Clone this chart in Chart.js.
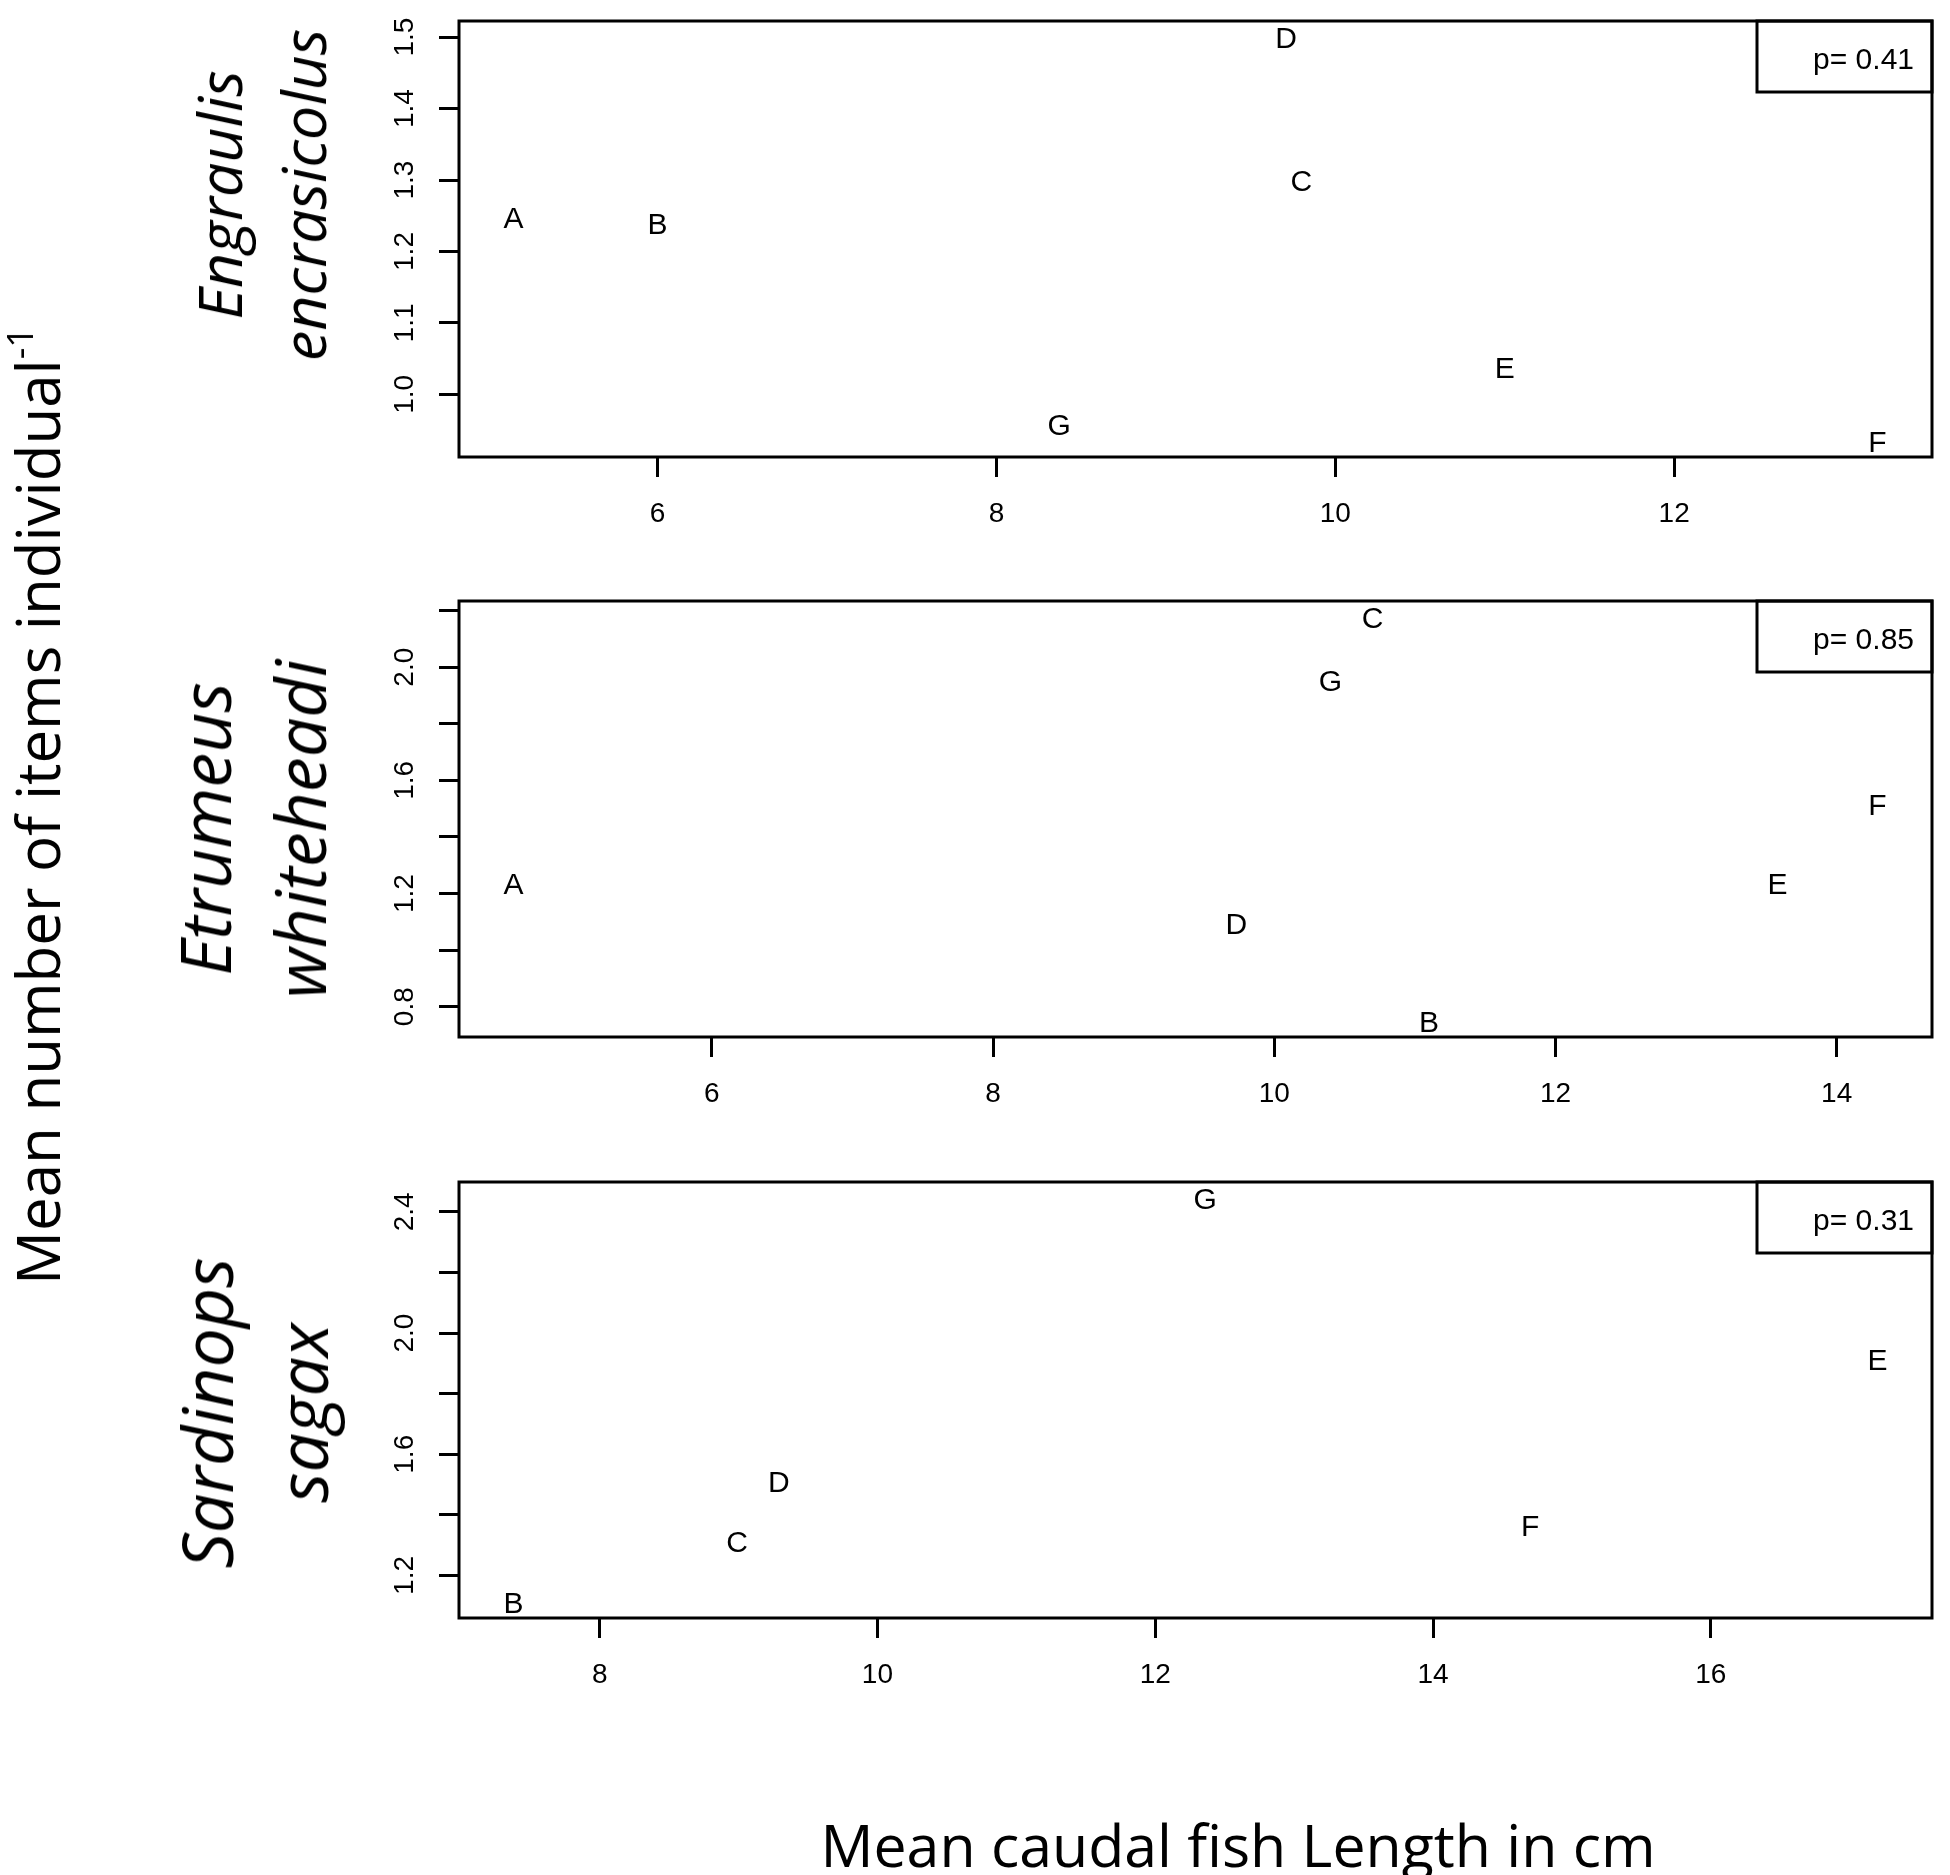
<!DOCTYPE html>
<html>
<head>
<meta charset="utf-8">
<script src="https://cdn.jsdelivr.net/npm/chart.js@4/dist/chart.umd.min.js"></script>
<style>
  body { margin: 0; background: #fff; }
  #wrap { position: relative; width: 1950px; height: 1875px; background: #fff; overflow: hidden; }
  canvas { position: absolute; left: 0; }
  .rot { position: absolute; white-space: nowrap; transform: translate(-50%, -50%) rotate(-90deg); color: #000; text-align: center; }
  .species { font-family: "Open Sans", sans-serif; font-style: italic; }
  .title { font-family: "Open Sans", sans-serif; }
</style>
</head>
<body>
<div id="wrap">
  <canvas id="p1" width="1950" height="580" style="top:0px"></canvas>
  <canvas id="p2" width="1950" height="580" style="top:580px"></canvas>
  <canvas id="p3" width="1950" height="580" style="top:1161px"></canvas>

  <div class="rot title" style="left:37px; top:806px; font-size:60px;">Mean number of items individual<sup style="font-size:60%; position:relative; top:-6px;">-1</sup></div>
  <div class="rot species" style="left:261px; top:195px; font-size:61px; line-height:84px;">Engraulis<br>encrasicolus</div>
  <div class="rot species" style="left:252px; top:829px; font-size:70px; line-height:95px;">Etrumeus<br>whiteheadi</div>
  <div class="rot species" style="left:254px; top:1413px; font-size:70px; line-height:95px;">Sardinops<br>sagax</div>
  <div class="title" style="position:absolute; left:1238px; top:1804px; font-size:59px; line-height:80px; transform:translateX(-50%); white-space:nowrap;">Mean caudal fish Length in cm</div>
</div>
<script>
  // Engraulis encrasicolus
  const letters1 = ["A", "B", "C", "D", "E", "F", "G"];
  const length1 = [5.15, 6.0, 9.8, 9.71, 11.0, 13.2, 8.37];
  const items1 = [1.248, 1.24, 1.30, 1.50, 1.038, 0.935, 0.958];
  const xTicks1 = [6, 8, 10, 12];
  const yTicks1 = [1.0, 1.1, 1.2, 1.3, 1.4, 1.5];
  const yLabels1 = ["1.0", "1.1", "1.2", "1.3", "1.4", "1.5"];

  // Etrumeus whiteheadi
  const letters2 = ["A", "B", "C", "D", "E", "F", "G"];
  const length2 = [4.59, 11.1, 10.7, 9.73, 13.58, 14.29, 10.4];
  const items2 = [1.236, 0.75, 2.177, 1.096, 1.238, 1.516, 1.956];
  const xTicks2 = [6, 8, 10, 12, 14];
  const yTicks2 = [0.8, 1.0, 1.2, 1.4, 1.6, 1.8, 2.0, 2.2];
  const yLabels2 = ["0.8", "", "1.2", "", "1.6", "", "2.0", ""];

  // Sardinops sagax
  const letters3 = ["B", "C", "D", "E", "F", "G"];
  const length3 = [7.38, 8.99, 9.29, 17.2, 14.70, 12.36];
  const items3 = [1.113, 1.315, 1.513, 1.913, 1.365, 2.445];
  const xTicks3 = [8, 10, 12, 14, 16];
  const yTicks3 = [1.2, 1.4, 1.6, 1.8, 2.0, 2.2, 2.4];
  const yLabels3 = ["1.2", "", "1.6", "", "2.0", "", "2.4"];

  const pValues = ["p= 0.41", "p= 0.85", "p= 0.31"];

  const tickFont = { family: "'Liberation Sans', Arial, sans-serif", size: 28 };
  const letterFont = "30px 'Liberation Sans', Arial, sans-serif";

  // R style axis range: data range stretched by 4% on each side
  function rRange(vals) {
    const lo = Math.min(...vals), hi = Math.max(...vals);
    const d = (hi - lo) * 0.04;
    return [lo - d, hi + d];
  }

  function makePanel(id, letters, xs, ys, xTicks, yTicks, yLabels, pText) {
    const xr = rRange(xs);
    const yr = rRange(ys);

    const letterPlugin = {
      id: "letters",
      afterDatasetsDraw(chart) {
        const ctx = chart.ctx;
        const meta = chart.getDatasetMeta(0);
        ctx.save();
        ctx.fillStyle = "#000";
        ctx.font = letterFont;
        ctx.textAlign = "center";
        ctx.textBaseline = "alphabetic";
        // letters are centred on the point like R's text()
        meta.data.forEach((pt, i) => {
          ctx.fillText(letters[i], pt.x, pt.y + 11);
        });
        ctx.restore();
      },
      afterDraw(chart) {
        const { ctx, chartArea: a } = chart;
        ctx.save();
        ctx.strokeStyle = "#000";
        ctx.lineWidth = 3;
        ctx.strokeRect(a.left, a.top, a.right - a.left, a.bottom - a.top);
        // p value box in the top right corner
        const bw = 175, bh = 71;
        ctx.strokeRect(a.right - bw, a.top, bw, bh);
        ctx.fillStyle = "#000";
        ctx.font = letterFont;
        ctx.textAlign = "right";
        ctx.textBaseline = "middle";
        ctx.fillText(pText, a.right - 18, a.top + 40);
        ctx.restore();
      }
    };

    return new Chart(document.getElementById(id), {
      type: "scatter",
      data: {
        datasets: [{
          data: xs.map((x, i) => ({ x: x, y: ys[i] })),
          pointRadius: 0,
          pointHoverRadius: 0,
        }],
      },
      options: {
        responsive: false,
        animation: false,
        devicePixelRatio: 1,
        events: [],
        layout: { padding: { top: 21, right: 18, left: 0, bottom: 0 } },
        plugins: {
          legend: { display: false },
          tooltip: { enabled: false },
        },
        scales: {
          x: {
            type: "linear",
            min: xr[0],
            max: xr[1],
            afterBuildTicks: (s) => { s.ticks = xTicks.map((v) => ({ value: v })); },
            afterFit: (s) => {
              s.height = 123;
              s.paddingLeft = 0;
              s.paddingRight = 0;
            },
            border: { display: false },
            grid: { drawOnChartArea: false, drawTicks: true, tickLength: 20, tickWidth: 3, tickColor: "#000" },
            ticks: {
              autoSkip: false,
              maxRotation: 0,
              color: "#000",
              font: tickFont,
              padding: 20,
              callback: (v) => String(v),
            },
          },
          y: {
            type: "linear",
            min: yr[0],
            max: yr[1],
            afterBuildTicks: (s) => { s.ticks = yTicks.map((v) => ({ value: v })); },
            afterFit: (s) => {
              s.width = 459;
              s.paddingTop = 0;
              s.paddingBottom = 0;
            },
            border: { display: false },
            grid: { drawOnChartArea: false, drawTicks: true, tickLength: 20, tickWidth: 3, tickColor: "#000" },
            ticks: {
              autoSkip: false,
              minRotation: 90,
              maxRotation: 90,
              crossAlign: "center",
              color: "#000",
              font: tickFont,
              padding: 14,
              callback: (v, i) => yLabels[i],
            },
          },
        },
      },
      plugins: [letterPlugin],
    });
  }

  makePanel("p1", letters1, length1, items1, xTicks1, yTicks1, yLabels1, pValues[0]);
  makePanel("p2", letters2, length2, items2, xTicks2, yTicks2, yLabels2, pValues[1]);
  makePanel("p3", letters3, length3, items3, xTicks3, yTicks3, yLabels3, pValues[2]);
</script>
</body>
</html>
